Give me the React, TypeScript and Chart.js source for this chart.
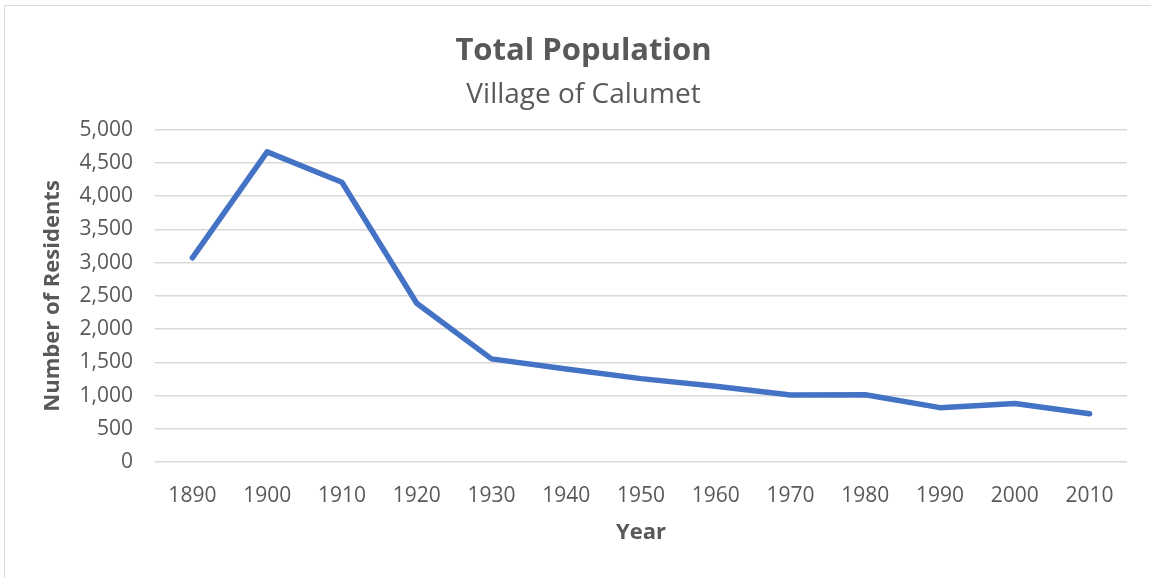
import React, { useEffect, useRef } from "react";
import { Chart, registerables } from "chart.js";

Chart.register(...registerables);

const years = ["1890", "1900", "1910", "1920", "1930", "1940", "1950", "1960", "1970", "1980", "1990", "2000", "2010"];
const population = [3073, 4668, 4211, 2390, 1552, 1400, 1255, 1139, 1007, 1013, 818, 879, 726];

const TEXT = "#595959";
const FONT = "'Open Sans', sans-serif";

export default function App() {
  const ref = useRef<HTMLCanvasElement | null>(null);
  useEffect(() => {
    if (!ref.current) return;
    const chart = new Chart(ref.current, {
      type: "line",
      data: {
        labels: years,
        datasets: [
          {
            label: "Population",
            data: population,
            borderColor: "#4472C4",
            backgroundColor: "#4472C4",
            borderWidth: 5.5,
            pointRadius: 0,
            borderCapStyle: "round",
            borderJoinStyle: "round",
            tension: 0,
          },
        ],
      },
      options: {
        animation: false,
        responsive: false,
        maintainAspectRatio: false,
        layout: { padding: { left: 40, right: 24, top: 33, bottom: 32 } },
        plugins: {
          legend: { display: false },
          tooltip: { enabled: false },
          title: {
            display: true,
            text: "Total Population",
            color: TEXT,
            font: { family: FONT, size: 31, weight: "bold" },
            padding: { top: 0, bottom: 0 },
          },
          subtitle: {
            display: true,
            text: "Village of Calumet",
            color: TEXT,
            font: { family: FONT, size: 28 },
            padding: { top: 8, bottom: 18 },
          },
        },
        scales: {
          x: {
            offset: true,
            grid: { display: false, drawTicks: false },
            border: { display: false },
            ticks: { color: TEXT, font: { family: FONT, size: 21 }, padding: 21, maxRotation: 0, autoSkip: false },
            title: {
              display: true,
              text: "Year",
              color: TEXT,
              font: { family: FONT, size: 22, weight: "bold" },
              padding: { top: 0, bottom: 0 },
            },
            afterFit: (scale: any) => {
              scale.height = 84;
            },
          },
          y: {
            min: 0,
            max: 5000,
            grid: { color: "#d9d9d9", lineWidth: 1.5, drawTicks: false },
            border: { display: false },
            ticks: {
              stepSize: 500,
              color: TEXT,
              font: { family: FONT, size: 21 },
              padding: 22,
              callback: (v: any) => Number(v).toLocaleString("en-US"),
            },
            title: {
              display: true,
              text: "Number of Residents",
              color: TEXT,
              font: { family: FONT, size: 22, weight: "bold" },
              padding: { top: 0, bottom: 0 },
            },
            afterFit: (scale: any) => {
              scale.width = 115;
            },
          },
        },
      },
    });
    return () => chart.destroy();
  }, []);
  return (
    <div style={{ position: "absolute", left: 0, top: 0, width: 1151, height: 578, background: "#fff", overflow: "hidden" }}>
      <div style={{ position: "absolute", left: 4, top: 5, width: 1200, height: 600, borderLeft: "1px solid #d9d9d9", borderTop: "1px solid #d9d9d9" }} />
      <canvas ref={ref} width={1151} height={578} style={{ position: "absolute", left: 0, top: 0 }} />
    </div>
  );
}
